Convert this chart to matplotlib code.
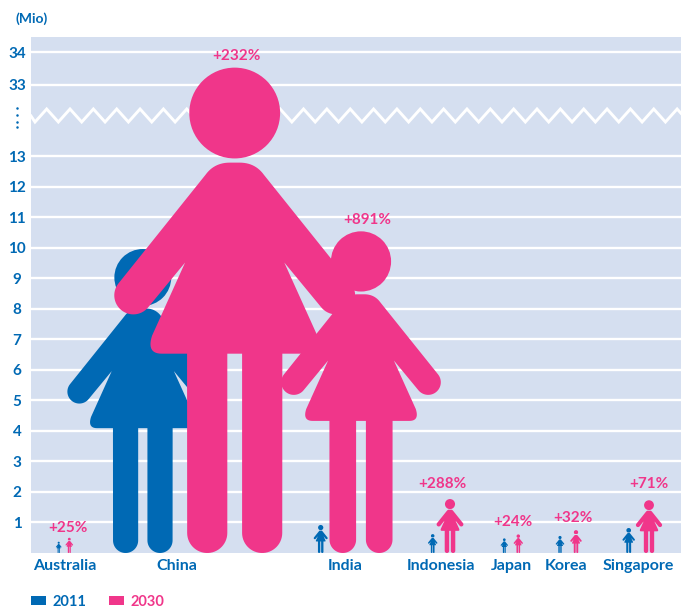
import numpy as np
import matplotlib
matplotlib.use('Agg')
import matplotlib.pyplot as plt
from matplotlib.path import Path
from matplotlib.patches import PathPatch, Patch
from matplotlib.transforms import Affine2D

W, H = 681, 610
BLUE = '#0069b4'
PINK = '#f0368a'
BG = '#d5dff0'

plt.rcParams['font.family'] = ['Lato', 'DejaVu Sans']
plt.rcParams['font.weight'] = 'bold'

countries = ['Australia', 'China', 'India', 'Indonesia', 'Japan', 'Korea', 'Singapore']
mio_2011 = [0.37, 9.97, 0.92, 0.62, 0.48, 0.56, 0.82]
mio_2030 = [0.50, 33.55, 10.55, 1.77, 0.61, 0.75, 1.73]
growth = ['+25%', '+232%', '+891%', '+288%', '+24%', '+32%', '+71%']
tick_vals = [1, 2, 3, 4, 5, 6, 7, 8, 9, 10, 11, 12, 13, 33, 34]

# horizontal layout, x axis runs in pixels
x_label = [65, 176.5, 345, 441, 511, 566.5, 638.5]
x_2011 = [58.7, 142.8, 320.7, 432.7, 504.3, 560, 628.7]
x_2030 = [69.3, 234.7, 361, 450, 518.3, 576, 649]
x_growth = [67.8, 236, 367, 442.7, 512.7, 573, 649]
growth_gap = [10, 11, 11, 15, 12, 12, 16]

# broken y axis: 13 to 33 is squeezed into a short stretch
knots_val = [0, 13, 33, 36]
knots_px = [0, 397, 468, 567]


def fwd(v):
    return np.interp(v, knots_val, knots_px)


def inv(p):
    return np.interp(p, knots_px, knots_val)


def arc(cx, cy, r, a0, a1, n=30):
    a = np.radians(np.linspace(a0, a1, n))
    return np.column_stack([cx + r * np.cos(a), cy + r * np.sin(a)])


def quad(p0, c, p1, n=14):
    t = np.linspace(0, 1, n)[:, None]
    return (1 - t)**2 * np.array(p0) + 2 * t * (1 - t) * np.array(c) + t**2 * np.array(p1)


def person():
    # right half of the outline, unit height, mirrored for the left half
    half = np.vstack([
        [(0, 0.803)],
        quad((0.01, 0.803), (0.042, 0.803), (0.06, 0.778)),
        arc(0.2085, 0.530, 0.0392, 38.7, -141.3),
        [(0.102, 0.5975), (0.170, 0.447)],
        quad((0.170, 0.447), (0.182, 0.41), (0.150, 0.41)),
        [(0.098, 0.41)],
        arc(0.0565, 0.0413, 0.0413, 0, -180),
        [(0.0152, 0.41), (0, 0.41)],
    ])
    left = half[::-1] * [-1, 1]
    body = Path(np.vstack([half, left, half[:1]]), closed=True)
    head = Path.circle((0, 0.905), 0.0934)
    return Path.make_compound_path(body, head)


fig = plt.figure(figsize=(W / 100, H / 100), dpi=100)
ax = fig.add_axes([31 / W, (H - 553) / H, (W - 31) / W, (553 - 37) / H])
ax.set_facecolor(BG)
ax.set_yscale('function', functions=(fwd, inv))
ax.set_xlim(31, W)
ax.set_ylim(0, inv(516))
for s in ax.spines.values():
    s.set_visible(False)

ax.set_yticks(tick_vals, [str(v) for v in tick_vals])
ax.minorticks_off()
ax.grid(axis='y', color='white', lw=1.7)
ax.set_axisbelow(True)
ax.tick_params(axis='y', length=0, pad=10, labelsize=11, labelcolor=BLUE)
for lab in ax.get_yticklabels():
    lab.set_horizontalalignment('center')
ax.set_xticks(x_label, countries)
ax.tick_params(axis='x', length=0, pad=4, labelsize=11.5, labelcolor=BLUE)

# pixel coordinates with y pointing down, for the axis break marks
px = Affine2D().scale(1, -1).translate(0, H)
zig_x = np.arange(35, W + 24, 23.35 / 2)
zig_y = np.where(np.arange(len(zig_x)) % 2 == 0, 122, 109)
ax.plot(np.r_[31, zig_x], np.r_[116, zig_y], color='white', lw=2.1, transform=px,
        solid_joinstyle='miter', zorder=1.5)
ax.plot([17] * 4, [107.7, 115, 122, 127], ls='none', marker='o', ms=1.8, mew=0, color=BLUE,
        transform=px, clip_on=False)

shape = person()


def add_person(x, value, color, z):
    base = ax.transData.transform((x, 0))
    top = ax.transData.transform((x, value))
    scale = top[1] - base[1]
    tr = Affine2D().scale(scale).translate(base[0], base[1])
    ax.add_patch(PathPatch(shape, transform=tr, fc=color, lw=0, zorder=z))


for i in range(len(countries)):
    add_person(x_2011[i], mio_2011[i], BLUE, 3)
for i in range(len(countries)):
    add_person(x_2030[i], mio_2030[i], PINK, 4)

for i, g in enumerate(growth):
    ax.annotate(g, xy=(x_growth[i], mio_2030[i]), xytext=(0, growth_gap[i] * 0.72),
                textcoords='offset points', ha='center', va='center', color=PINK,
                fontsize=11, zorder=5)

fig.text(15 / W, (H - 19) / H, '(Mio)', color=BLUE, fontsize=10, va='center')

handles = [Patch(fc=BLUE, lw=0), Patch(fc=PINK, lw=0)]
fig.legend(handles, ['2011', '2030'], loc='center left', bbox_to_anchor=(18 / W, (H - 602) / H),
           ncols=2, frameon=False, fontsize=10.5, labelcolor=[BLUE, PINK],
           handlelength=1.03, handleheight=0.6, handletextpad=0.45, columnspacing=1.55)

fig.savefig('out.png', dpi=100)
